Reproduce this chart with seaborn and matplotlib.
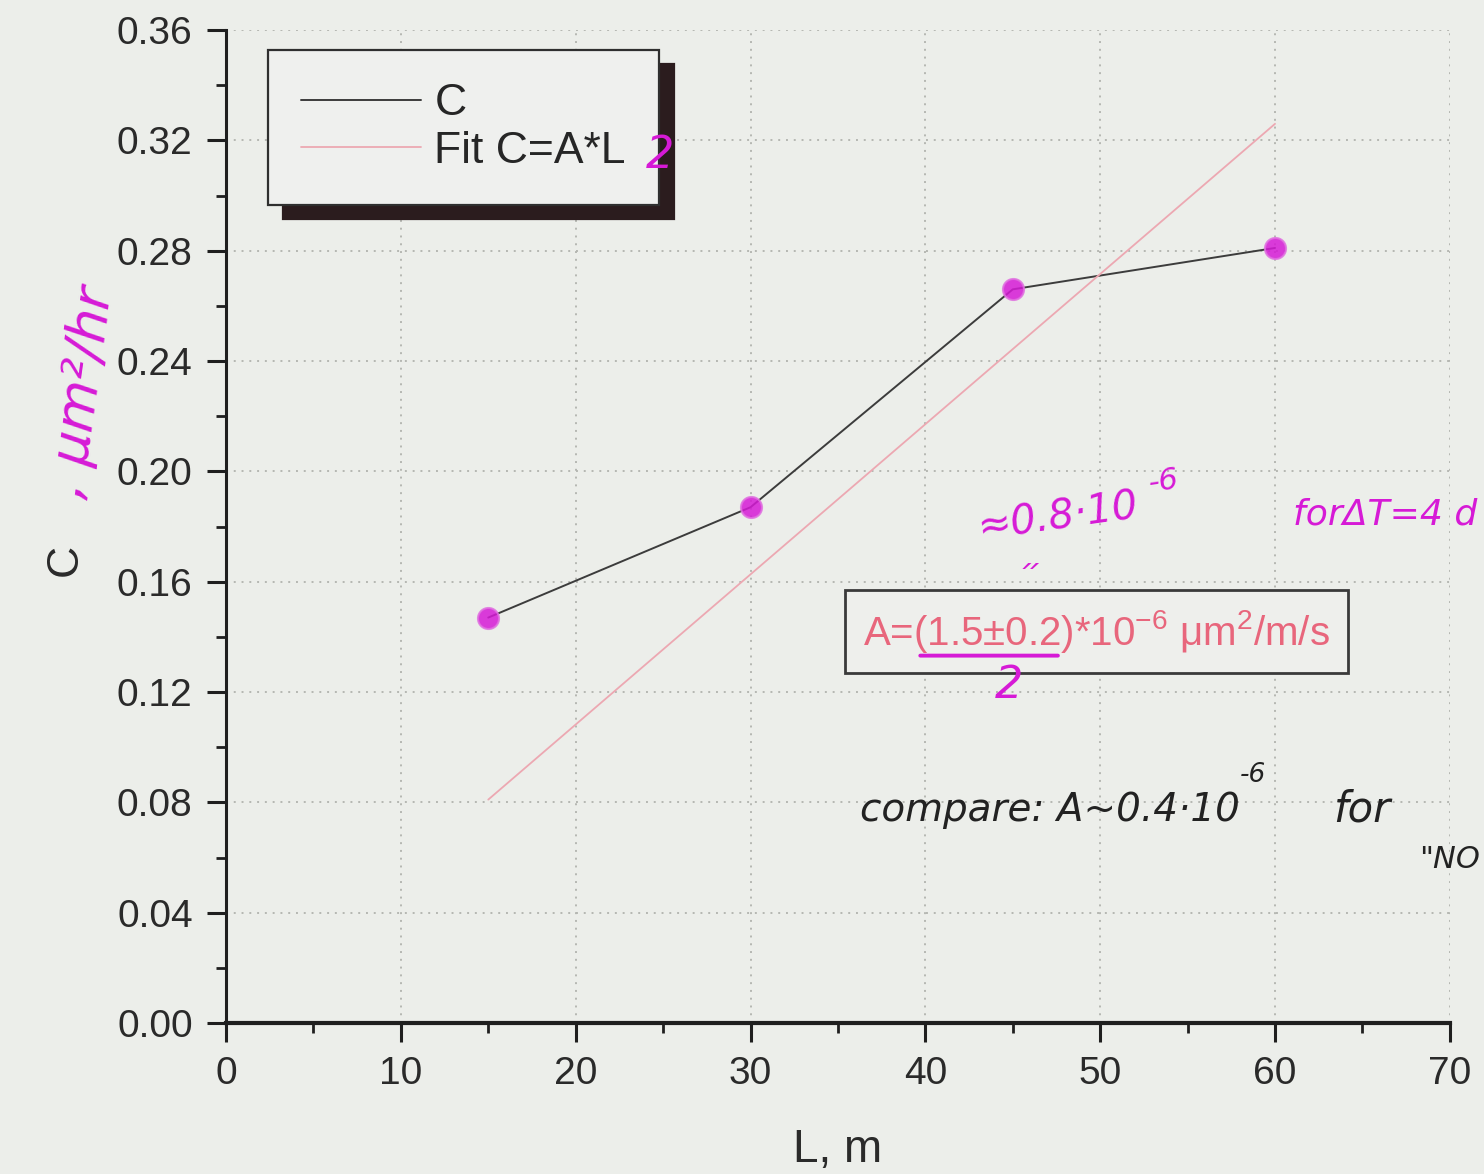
import matplotlib
matplotlib.use("Agg")
import matplotlib.pyplot as plt
import seaborn as sns
import pandas as pd

length_m = [15, 30, 45, 60]
c_values = [0.147, 0.187, 0.266, 0.281]

# straight fit line through the end points
fit_length = [15, 60]
fit_values = [0.081, 0.326]

x_ticks = [0, 10, 20, 30, 40, 50, 60, 70]
y_ticks = [0.00, 0.04, 0.08, 0.12, 0.16, 0.20, 0.24, 0.28, 0.32, 0.36]

paper = "#eceeea"
ink = "#1f1f1f"
pen = "#d61ad6"

sns.set_theme(style="ticks")
plt.rcParams["font.family"] = ["Liberation Sans", "DejaVu Sans"]
plt.rcParams["mathtext.fontset"] = "custom"
plt.rcParams["mathtext.rm"] = "Liberation Sans"

df = pd.DataFrame({"L": length_m, "C": c_values})
fit_df = pd.DataFrame({"L": fit_length, "C": fit_values})

fig = plt.figure(figsize=(14.84, 11.74), dpi=100, facecolor=paper)
ax = fig.add_axes([0.1523, 0.1286, 0.8247, 0.8458], facecolor=paper)

sns.lineplot(data=df, x="L", y="C", ax=ax, color="#3c3c3c", lw=1.4, label="C")
sns.lineplot(data=fit_df, x="L", y="C", ax=ax, color="#eca8b2", lw=1.3,
             label="Fit C=A*L")
sns.scatterplot(data=df, x="L", y="C", ax=ax, color=pen, s=230, alpha=0.85,
                edgecolor="#e070e0", linewidth=1.5, zorder=5, legend=False)

ax.set_xlim(0, 70)
ax.set_ylim(0, 0.36)
ax.set_xticks(x_ticks)
ax.set_xticks([5, 15, 25, 35, 45, 55, 65], minor=True)
ax.set_yticks(y_ticks)
ax.set_yticks([0.02, 0.06, 0.10, 0.14, 0.18, 0.22, 0.26, 0.30, 0.34], minor=True)
ax.set_xticklabels([str(t) for t in x_ticks])
ax.set_yticklabels([f"{t:.2f}" for t in y_ticks])

ax.grid(True, which="major", color="#b5b7b2", linestyle=(0, (1, 3)), lw=1.4)
for s in ["top", "right"]:
    ax.spines[s].set_visible(False)
ax.spines["left"].set_linewidth(2.2)
ax.spines["bottom"].set_linewidth(3)
ax.spines["left"].set_color(ink)
ax.spines["bottom"].set_color(ink)
ax.tick_params(which="major", direction="out", length=14, width=2.2,
               colors=ink, labelsize=28, pad=10)
ax.tick_params(which="minor", direction="out", length=7, width=2, colors=ink)
for lab in ax.get_xticklabels() + ax.get_yticklabels():
    lab.set_color("#2a2a2a")

ax.set_xlabel("L, m", fontsize=33, color="#2a2a2a", labelpad=26)
ax.set_ylabel("C", fontsize=32, color="#2a2a2a")
ax.yaxis.set_label_coords(-0.115, 0.466)

leg = ax.legend(loc="upper left", bbox_to_anchor=(0.034, 0.98), fontsize=32,
                frameon=True, fancybox=False, handlelength=2.7,
                handletextpad=0.3, borderpad=0.75, labelspacing=0.15,
                borderaxespad=0,
                shadow={"ox": 11, "oy": -10, "color": "#2b1c1e", "alpha": 1})
leg.get_frame().set_facecolor("#eff0ee")
leg.get_frame().set_edgecolor("#2f2f2f")
leg.get_frame().set_linewidth(1.6)
leg.get_frame().set_alpha(1)

# fit result box
ax.text(49.8, 0.142,
        r"A=(1.5±0.2)*10$^{\mathregular{-6}}$ μm$^{\mathregular{2}}$/m/s",
        fontsize=29, color="#e8667c", ha="center", va="center",
        bbox=dict(boxstyle="square,pad=0.45", facecolor="#eeefec",
                  edgecolor="#3a3a3a", linewidth=2))

# handwritten notes in magenta
hand = dict(color=pen, family=["DejaVu Sans"], style="italic")
ax.text(0.343, 0.874, "2", transform=ax.transAxes, fontsize=32,
        ha="left", va="center", zorder=10, **hand)
ax.text(0.612, 0.51, "≈0.8·10", transform=ax.transAxes, fontsize=29,
        rotation=8, ha="left", va="center", **hand)
ax.text(0.752, 0.545, "-6", transform=ax.transAxes, fontsize=22,
        rotation=8, ha="left", va="center", **hand)
ax.text(0.657, 0.455, "״", transform=ax.transAxes, fontsize=24,
        ha="center", va="center", **hand)
ax.text(0.872, 0.512, "forΔT=4 d", transform=ax.transAxes, fontsize=26,
        ha="left", va="center", clip_on=False, **hand)
ax.text(0.64, 0.34, "2", transform=ax.transAxes, fontsize=32,
        ha="center", va="center", **hand)
ax.annotate("", xy=(0.565, 0.37), xytext=(0.682, 0.37),
            xycoords="axes fraction",
            arrowprops=dict(arrowstyle="-", color=pen, lw=2.8))
ax.text(-0.118, 0.635, ", μm²/hr", transform=ax.transAxes, fontsize=38,
        rotation=82, ha="center", va="center", **hand)

# handwritten note in black
note = dict(color="#222222", family=["DejaVu Sans"], style="italic")
ax.text(0.518, 0.215, "compare: A~0.4·10", transform=ax.transAxes,
        fontsize=28, ha="left", va="center", **note)
ax.text(0.828, 0.25, "-6", transform=ax.transAxes, fontsize=19,
        ha="left", va="center", **note)
ax.text(0.905, 0.215, "for", transform=ax.transAxes, fontsize=30,
        ha="left", va="center", clip_on=False, **note)
ax.text(0.975, 0.165, "\"NO", transform=ax.transAxes, fontsize=22,
        ha="left", va="center", clip_on=False, **note)

fig.savefig("out.png", dpi=100, facecolor=paper)
